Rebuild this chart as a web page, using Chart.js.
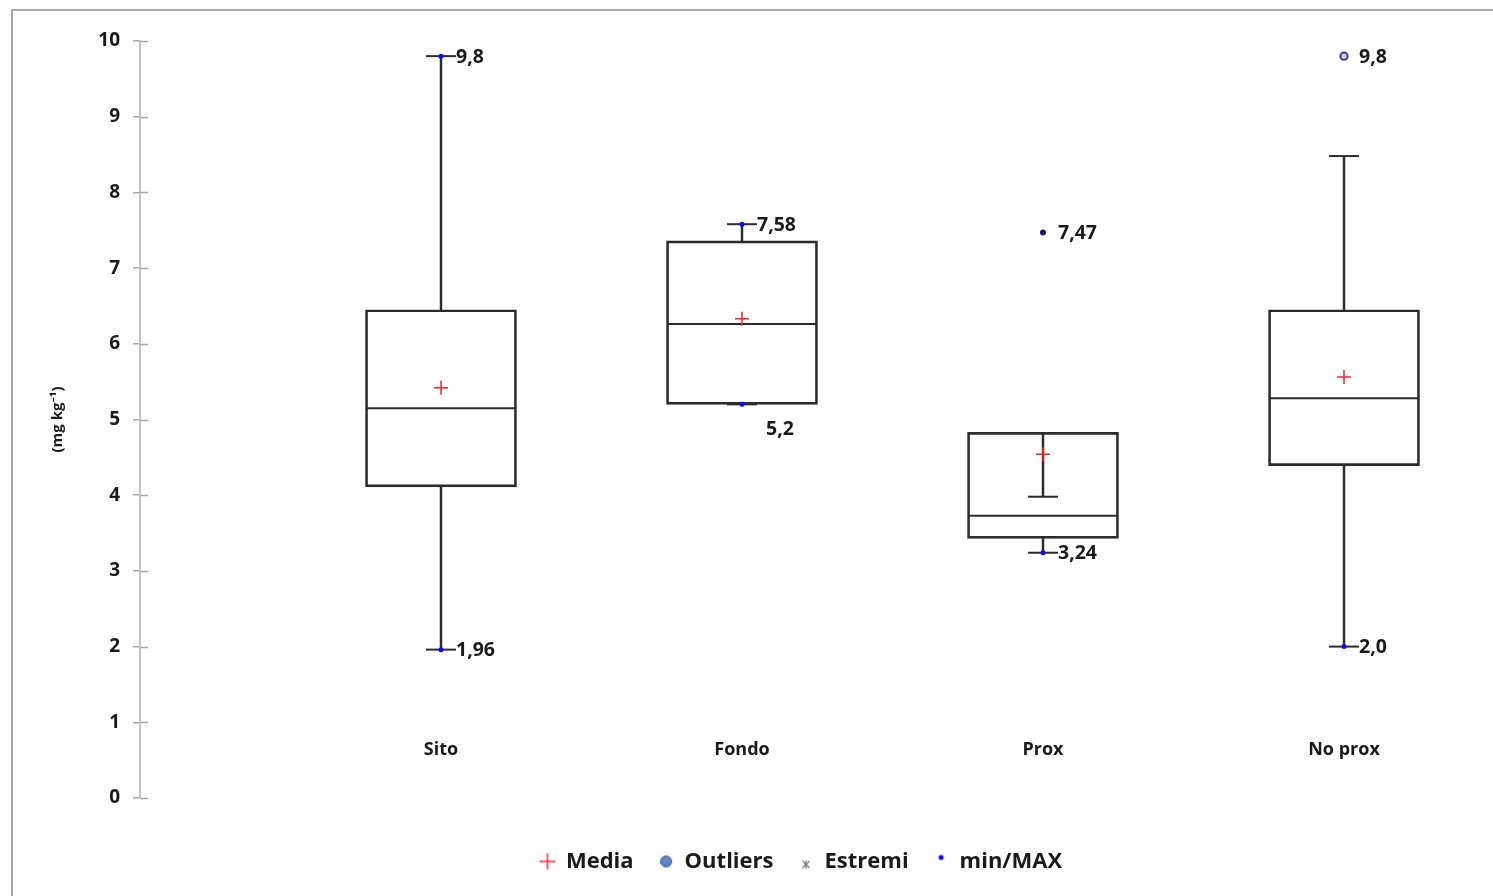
<!DOCTYPE html>
<html>
<head>
<meta charset="utf-8">
<script src="https://cdn.jsdelivr.net/npm/chart.js@4.4.1/dist/chart.umd.min.js"></script>
<style>
  html, body { margin: 0; padding: 0; background: #ffffff; }
  #wrap { width: 1493px; height: 896px; position: relative; }
</style>
</head>
<body>
<div id="wrap"><canvas id="chart" width="1493" height="896"></canvas></div>
<script>
// ---- data ----
const categories  = ['Sito', 'Fondo', 'Prox', 'No prox'];
const q1          = [4.11, 5.20, 3.43, 4.39];
const median      = [5.15, 6.26, 3.73, 5.28];
const q3          = [6.45, 7.36, 4.83, 6.45];
const whiskerLow  = [1.96, 5.20, 3.24, 2.0];
const whiskerHigh = [9.8, 7.58, 3.98, 8.48];
const mean        = [5.42, 6.33, 4.54, 5.56];
const minValues   = [1.96, 5.2, 3.24, 2.0];
const minDecimals = [2, 1, 2, 1];
const maxValues   = [9.8, 7.58, null, null];
const maxDecimals = [1, 2, null, null];
const outlierCategory = [2, 3];
const outlierValues   = [7.47, 9.8];
const outlierDecimals = [2, 1];
const yTicks = [0, 1, 2, 3, 4, 5, 6, 7, 8, 9, 10];
const legendNames = ['Media', 'Outliers', 'Estremi', 'min/MAX'];

// ---- styling ----
const FONT = '"Open Sans", "Noto Sans", "DejaVu Sans", sans-serif';
const INK = '#1a1a1a';
const LINE = '#2b2b2b';
const xOf = i => i + 1;
const fmt = (v, d) => v.toFixed(d).replace('.', ',');

// value tags beside min / max / outlier marks
const tags = [];
maxValues.forEach((v, i) => { if (v !== null) tags.push({ x: xOf(i), y: v, text: fmt(v, maxDecimals[i]), key: 'max-' + i }); });
minValues.forEach((v, i) => tags.push({ x: xOf(i), y: v, text: fmt(v, minDecimals[i]), key: 'min-' + i }));
outlierValues.forEach((v, i) => tags.push({ x: xOf(outlierCategory[i]), y: v, text: fmt(v, outlierDecimals[i]), key: 'out-' + i }));
const tagPlacement = { 'min-1': [24, 25] };

const tagPlugin = {
  id: 'valueTags',
  afterDatasetsDraw(chart) {
    const { ctx, scales: { x, y } } = chart;
    ctx.save();
    ctx.font = 'bold 19.5px ' + FONT;
    ctx.fillStyle = INK;
    ctx.textAlign = 'left';
    ctx.textBaseline = 'middle';
    tags.forEach(t => {
      const [dx, dy] = tagPlacement[t.key] || [15, 1];
      ctx.fillText(t.text, x.getPixelForValue(t.x) + dx, y.getPixelForValue(t.y) + dy);
    });
    ctx.restore();
  }
};

// outer frame and inward tick stubs on the value axis
const framePlugin = {
  id: 'frame',
  beforeDraw(chart) {
    const { ctx, width, height } = chart;
    ctx.save();
    ctx.strokeStyle = '#a8a8a8';
    ctx.lineWidth = 2;
    ctx.beginPath();
    ctx.moveTo(12, height + 2);
    ctx.lineTo(12, 10);
    ctx.lineTo(width + 2, 10);
    ctx.stroke();
    ctx.restore();
  },
  afterDraw(chart) {
    const { ctx, chartArea, scales: { y } } = chart;
    ctx.save();
    ctx.strokeStyle = '#a8a8a8';
    ctx.lineWidth = 1.5;
    y.ticks.forEach(t => {
      const py = Math.round(y.getPixelForValue(t.value)) + 0.5;
      ctx.beginPath();
      ctx.moveTo(chartArea.left, py);
      ctx.lineTo(chartArea.left + 8, py);
      ctx.stroke();
    });
    ctx.restore();
  }
};

// legend icons
function icon(draw) {
  const c = document.createElement('canvas');
  c.width = 20; c.height = 20;
  const g = c.getContext('2d');
  draw(g);
  return c;
}
const legendIcons = [
  icon(g => { g.strokeStyle = '#ff2a2a'; g.lineWidth = 1.5; g.beginPath(); g.moveTo(2, 10); g.lineTo(18, 10); g.moveTo(10, 2); g.lineTo(10, 18); g.stroke(); }),
  icon(g => { g.fillStyle = '#5b86c2'; g.strokeStyle = '#3d6298'; g.lineWidth = 1; g.beginPath(); g.arc(10, 10, 5.5, 0, Math.PI * 2); g.fill(); g.stroke(); }),
  icon(g => { g.strokeStyle = '#7a7a7a'; g.lineWidth = 1.2; g.beginPath(); g.moveTo(6.5, 9.5); g.lineTo(13.5, 16.5); g.moveTo(13.5, 9.5); g.lineTo(6.5, 16.5); g.moveTo(10, 9); g.lineTo(10, 17); g.stroke(); }),
  icon(g => { g.fillStyle = '#0a0aff'; g.beginPath(); g.arc(10, 6, 2.5, 0, Math.PI * 2); g.fill(); })
];

const boxData   = categories.map((c, i) => ({ x: xOf(i), y: [q1[i], q3[i]] }));
const upperWhis = categories.map((c, i) => ({ x: xOf(i), y: [q3[i], whiskerHigh[i]] }));
const lowerWhis = categories.map((c, i) => ({ x: xOf(i), y: [whiskerLow[i], q1[i]] }));
const caps = categories.flatMap((c, i) => [{ x: xOf(i), y: whiskerHigh[i] }, { x: xOf(i), y: whiskerLow[i] }]);
const minMaxPts = [
  ...maxValues.map((v, i) => ({ x: xOf(i), y: v })).filter(p => p.y !== null),
  ...minValues.map((v, i) => ({ x: xOf(i), y: v }))
];
const outlierPts = outlierValues.map((v, i) => ({ x: xOf(outlierCategory[i]), y: v }));

new Chart(document.getElementById('chart'), {
  type: 'bar',
  data: {
    datasets: [
      { type: 'scatter', order: 0, data: mean.map((v, i) => ({ x: xOf(i), y: v })),
        pointStyle: 'cross', radius: 7, borderColor: '#ff1f1f', borderWidth: 1.5 },
      { type: 'scatter', order: 1, data: minMaxPts,
        pointStyle: 'circle', radius: 2.5, backgroundColor: '#0a0aff', borderWidth: 0 },
      { type: 'scatter', order: 2, data: outlierPts,
        pointStyle: 'circle', radius: [3, 3.6], backgroundColor: ['#16166e', '#d4d4ee'],
        borderColor: ['#16166e', '#35359a'], borderWidth: [0, 2] },
      { type: 'scatter', order: 3, data: median.map((v, i) => ({ x: xOf(i), y: v })),
        pointStyle: 'line', radius: 75, borderColor: LINE, borderWidth: 2 },
      { type: 'scatter', order: 4, data: caps,
        pointStyle: 'line', radius: 15, borderColor: LINE, borderWidth: 2 },
      { order: 5, data: boxData, grouped: false, barThickness: 151,
        backgroundColor: 'rgba(255,255,255,0)', borderColor: LINE, borderWidth: 2, borderSkipped: false },
      { order: 6, data: upperWhis, grouped: false, barThickness: 1.8,
        backgroundColor: LINE, borderWidth: 0 },
      { order: 7, data: lowerWhis, grouped: false, barThickness: 1.8,
        backgroundColor: LINE, borderWidth: 0 }
    ]
  },
  options: {
    responsive: false,
    animation: false,
    events: [],
    layout: { autoPadding: false, padding: { left: 40, top: 41, right: 31, bottom: 13.5 } },
    scales: {
      x: {
        type: 'linear',
        min: 0,
        max: 4.392,
        offset: false,
        position: { y: 0.78 },
        grid: { display: false, drawTicks: false },
        border: { display: false },
        afterBuildTicks: s => { s.ticks = categories.map((c, i) => ({ value: xOf(i) })); },
        afterFit: s => { s.height = 0; },
        ticks: {
          padding: 0,
          autoSkip: false,
          maxRotation: 0,
          color: INK,
          font: { family: FONT, size: 18, weight: 'bold' },
          callback: v => categories[v - 1]
        }
      },
      y: {
        type: 'linear',
        min: 0,
        max: 10,
        afterBuildTicks: s => { s.ticks = yTicks.map(v => ({ value: v })); },
        afterFit: s => { s.width = 100; },
        grid: { display: true, drawOnChartArea: false, drawTicks: true, tickLength: 7, color: '#a8a8a8', lineWidth: 1.5 },
        border: { display: true, color: '#c4c4c4', width: 2 },
        ticks: {
          padding: 13,
          color: INK,
          font: { family: FONT, size: 19, weight: 'bold' }
        },
        title: {
          display: true,
          text: '(mg kg\u207B\u00B9)',
          color: INK,
          font: { family: FONT, size: 15, weight: 'bold' },
          padding: { top: 9, bottom: 0 }
        }
      }
    },
    plugins: {
      tooltip: { enabled: false },
      legend: {
        position: 'bottom',
        align: 'center',
        fullSize: false,
        title: { display: true, text: ' ', font: { size: 10, lineHeight: 1 }, padding: { top: 17.5, bottom: 0 } },
        labels: {
          usePointStyle: true,
          boxWidth: 15,
          boxHeight: 15,
          padding: 25,
          color: INK,
          font: { family: FONT, size: 22, weight: 'bold' },
          generateLabels: () => legendNames.map((t, i) => ({
            text: t, pointStyle: legendIcons[i], fillStyle: 'transparent', strokeStyle: 'transparent',
            lineWidth: 0, hidden: false, fontColor: INK
          }))
        }
      }
    }
  },
  plugins: [framePlugin, tagPlugin]
});
</script>
</body>
</html>
